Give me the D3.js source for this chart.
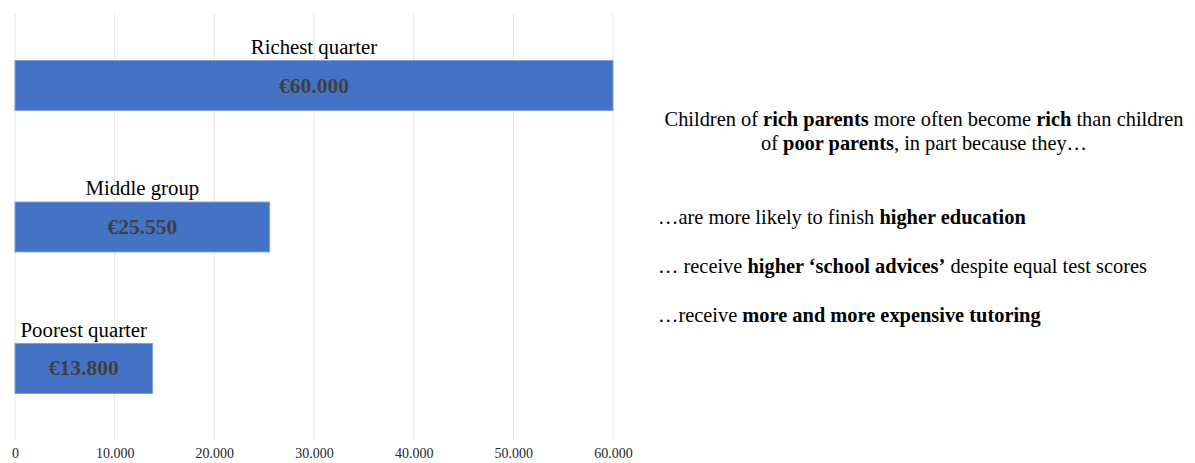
<!DOCTYPE html>
<html>
<head>
<meta charset="utf-8">
<script src="https://cdn.jsdelivr.net/npm/d3@7/dist/d3.min.js"></script>
<style>
  html, body { margin: 0; padding: 0; background: #fff; }
  svg { display: block; }
</style>
</head>
<body>
<svg id="chart" width="1195" height="463"></svg>
<script>
// Income groups and their values
const categories = ["Richest quarter", "Middle group", "Poorest quarter"];
const values = [60000, 25550, 13800];
const tickValues = [0, 10000, 20000, 30000, 40000, 50000, 60000];

// Explanatory text: each line is a list of [text, bold] runs
const headline = [
  [["Children of ", false], ["rich parents", true], [" more often become ", false], ["rich", true], [" than children", false]],
  [["of ", false], ["poor parents", true], [", in part because they…", false]]
];
const reasons = [
  [["…are more likely to finish ", false], ["higher education", true]],
  [["… receive ", false], ["higher ‘school advices’", true], [" despite equal test scores", false]],
  [["…receive ", false], ["more and more expensive tutoring", true]]
];

const FONT = "'Liberation Serif', 'Times New Roman', serif";
const svg = d3.select("#chart");

const nl = d3.formatLocale({ decimal: ",", thousands: ".", grouping: [3], currency: ["€", ""] });
const fmtTick = nl.format(",.0f");
const fmtValue = nl.format("$,.0f");

const x = d3.scaleLinear().domain([0, 60000]).range([15, 613]);
const y = d3.scaleBand().domain(categories).range([14, 440])
  .paddingInner(0.647).paddingOuter(0.329).align(0.5);

// Vertical gridlines
svg.append("g").selectAll("line").data(tickValues).join("line")
  .attr("x1", d => x(d)).attr("x2", d => x(d))
  .attr("y1", 14).attr("y2", 440)
  .attr("stroke", "#e6e6e6").attr("stroke-width", 1);

// Tick labels along the bottom
const axis = d3.axisBottom(x).tickValues(tickValues).tickFormat(fmtTick).tickSize(0).tickPadding(0);
const axisG = svg.append("g").attr("transform", "translate(0,448)").call(axis);
axisG.select(".domain").remove();
axisG.selectAll("text")
  .attr("font-family", FONT).attr("font-size", 14).attr("fill", "#262626");

// Bars
const bars = svg.append("g").selectAll("g").data(categories).join("g");
bars.append("rect")
  .attr("x", x(0))
  .attr("y", d => y(d))
  .attr("width", (d, i) => x(values[i]) - x(0))
  .attr("height", y.bandwidth())
  .attr("fill", "#4472c4")
  .attr("stroke", "#7e9fdb").attr("stroke-width", 1);

// Category labels above each bar
bars.append("text")
  .attr("x", (d, i) => (x(0) + x(values[i])) / 2)
  .attr("y", d => y(d) - 7)
  .attr("text-anchor", "middle")
  .attr("font-family", FONT).attr("font-size", 20.8).attr("fill", "#000")
  .text(d => d);

// Value labels inside each bar
bars.append("text")
  .attr("x", (d, i) => (x(0) + x(values[i])) / 2)
  .attr("y", d => y(d) + y.bandwidth() / 2 + 7)
  .attr("text-anchor", "middle")
  .attr("font-family", FONT).attr("font-size", 21.5).attr("font-weight", "bold")
  .attr("fill", "#404040")
  .text((d, i) => fmtValue(values[i]));

// Rich-text helper
function richLine(parent, runs, xPos, yPos, anchor) {
  const t = parent.append("text")
    .attr("x", xPos).attr("y", yPos)
    .attr("text-anchor", anchor)
    .attr("font-family", FONT).attr("font-size", 20.4).attr("fill", "#000")
    .style("white-space", "pre");
  runs.forEach(([s, b]) => {
    t.append("tspan").attr("font-weight", b ? "bold" : "normal").text(s);
  });
  return t;
}

const notes = svg.append("g");
headline.forEach((runs, i) => richLine(notes, runs, 924, 126 + i * 24, "middle"));
reasons.forEach((runs, i) => richLine(notes, runs, 658, 224 + i * 49, "start"));
</script>
</body>
</html>
